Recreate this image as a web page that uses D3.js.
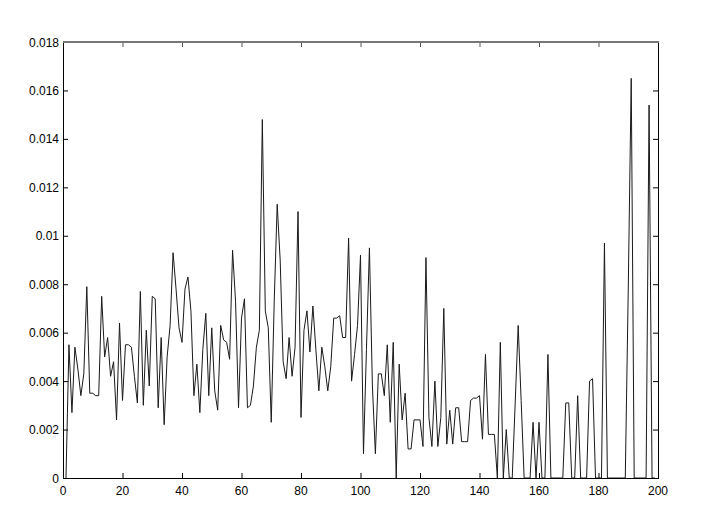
<!DOCTYPE html>
<meta charset="utf-8">
<script src="https://d3js.org/d3.v7.min.js"></script>
<body style="margin:0;background:#fff">
<svg width="717" height="529"></svg>
<script>
    // values, index 1..199
    var values = [
        0, 0.0055, 0.0027, 0.0054, 0.0045, 0.0034, 0.0043, 0.0079, 0.0035, 0.0035,
        0.0034, 0.0034, 0.0075, 0.0050, 0.0058, 0.0042, 0.0048, 0.0024, 0.0064, 0.0032,
        0.0055, 0.0055, 0.0054, 0.0042, 0.0031, 0.0077, 0.0030, 0.0061, 0.0038, 0.0075,
        0.0074, 0.0029, 0.0058, 0.0022, 0.0050, 0.0063, 0.0093, 0.0078, 0.0062, 0.0056,
        0.0078, 0.0083, 0.0069, 0.0034, 0.0047, 0.0027, 0.0053, 0.0068, 0.0034, 0.0062,
        0.0036, 0.0028, 0.0063, 0.0057, 0.0056, 0.0049, 0.0094, 0.0073, 0.0029, 0.0066,
        0.0074, 0.0029, 0.0030, 0.0038, 0.0054, 0.0061, 0.0148, 0.0069, 0.0062, 0.0023,
        0.0073, 0.0113, 0.0090, 0.0048, 0.0041, 0.0058, 0.0042, 0.0054, 0.0110, 0.0025,
        0.0061, 0.0069, 0.0052, 0.0071, 0.0053, 0.0036, 0.0054, 0.0046, 0.0036, 0.0046,
        0.0066, 0.0066, 0.0067, 0.0058, 0.0058, 0.0099, 0.0040, 0.0051, 0.0063, 0.0092,
        0.0010, 0.0053, 0.0095, 0.0038, 0.0010, 0.0043, 0.0043, 0.0034, 0.0055, 0.0023,
        0.0056, 0.0000, 0.0047, 0.0024, 0.0035, 0.0012, 0.0012, 0.0024, 0.0024, 0.0024,
        0.0013, 0.0091, 0.0025, 0.0013, 0.0040, 0.0013, 0.0025, 0.0070, 0.0014, 0.0028,
        0.0014, 0.0029, 0.0029, 0.0015, 0.0015, 0.0015, 0.0032, 0.0033, 0.0033, 0.0034,
        0.0016, 0.0051, 0.0018, 0.0018, 0.0018, 0, 0.0056, 0, 0.0020, 0,
        0, 0.0031, 0.0063, 0.0032, 0, 0, 0, 0.0023, 0, 0.0023,
        0, 0, 0.0051, 0, 0, 0, 0, 0, 0.0031, 0.0031,
        0, 0, 0.0034, 0, 0, 0, 0.0040, 0.0041, 0, 0,
        0, 0.0097, 0, 0, 0, 0, 0, 0, 0, 0.0078,
        0.0165, 0, 0, 0, 0, 0, 0.0154, 0, 0
    ];
    var xTicks = [0, 20, 40, 60, 80, 100, 120, 140, 160, 180, 200];
    var yTicks = [0, 0.002, 0.004, 0.006, 0.008, 0.01, 0.012, 0.014, 0.016, 0.018];
    var yLabels = ["0", "0.002", "0.004", "0.006", "0.008", "0.01", "0.012", "0.014", "0.016", "0.018"];

    var margin = {left: 63, right: 59, top: 42, bottom: 51};
    var svg = d3.select('svg');
    var W = 717, H = 529;
    var x = d3.scaleLinear().domain([0, 200]).range([margin.left, W - margin.right]);
    var y = d3.scaleLinear().domain([0, 0.018]).range([H - margin.bottom, margin.top]);

    var font = 'Liberation Sans, Arial, sans-serif';

    // line
    var line = d3.line()
        .x(function(d, i){ return x(i + 1); })
        .y(function(d){ return y(d); });

    svg.append('path')
        .datum(values)
        .attr('fill', 'none')
        .attr('stroke', '#1a1a1a')
        .attr('stroke-width', 1)
        .attr('d', line);

    // box and ticks (matlab style, ticks inward on all sides)
    var g = svg.append('g');
    var tl = 5;

    g.selectAll('line.xb').data(xTicks).enter().append('line')
        .attr('x1', function(d){ return x(d) + 0.5; }).attr('x2', function(d){ return x(d) + 0.5; })
        .attr('y1', y(0)).attr('y2', y(0) - tl)
        .attr('stroke', '#000');
    g.selectAll('line.xt').data(xTicks).enter().append('line')
        .attr('x1', function(d){ return x(d) + 0.5; }).attr('x2', function(d){ return x(d) + 0.5; })
        .attr('y1', y(0.018)).attr('y2', y(0.018) + tl)
        .attr('stroke', '#555');
    g.selectAll('line.yl').data(yTicks).enter().append('line')
        .attr('x1', x(0)).attr('x2', x(0) + tl)
        .attr('y1', function(d){ return y(d) + 0.5; }).attr('y2', function(d){ return y(d) + 0.5; })
        .attr('stroke', '#000');
    g.selectAll('line.yr').data(yTicks).enter().append('line')
        .attr('x1', x(200)).attr('x2', x(200) - tl)
        .attr('y1', function(d){ return y(d) + 0.5; }).attr('y2', function(d){ return y(d) + 0.5; })
        .attr('stroke', '#000');

    // frame
    g.append('line').attr('x1', x(0) + 0.5).attr('x2', x(0) + 0.5).attr('y1', y(0.018)).attr('y2', y(0) + 1).attr('stroke', '#000');
    g.append('line').attr('x1', x(0)).attr('x2', x(200) + 1).attr('y1', y(0) + 0.5).attr('y2', y(0) + 0.5).attr('stroke', '#000');
    g.append('line').attr('x1', x(200) + 0.5).attr('x2', x(200) + 0.5).attr('y1', y(0.018)).attr('y2', y(0) + 1).attr('stroke', '#000');
    g.append('line').attr('x1', x(0)).attr('x2', x(200) + 1).attr('y1', y(0.018)).attr('y2', y(0.018)).attr('stroke', '#777').attr('stroke-width', 2);

    // labels
    g.selectAll('text.xl').data(xTicks).enter().append('text')
        .attr('x', function(d){ return x(d); })
        .attr('y', y(0) + 17)
        .attr('text-anchor', 'middle')
        .style('font-family', font).style('font-size', '12px')
        .text(function(d){ return d; });

    g.selectAll('text.yl').data(yTicks).enter().append('text')
        .attr('x', x(0) - 4)
        .attr('y', function(d){ return y(d) + 4.5; })
        .attr('text-anchor', 'end')
        .style('font-family', font).style('font-size', '12px')
        .text(function(d, i){ return yLabels[i]; });
</script>
</body>
